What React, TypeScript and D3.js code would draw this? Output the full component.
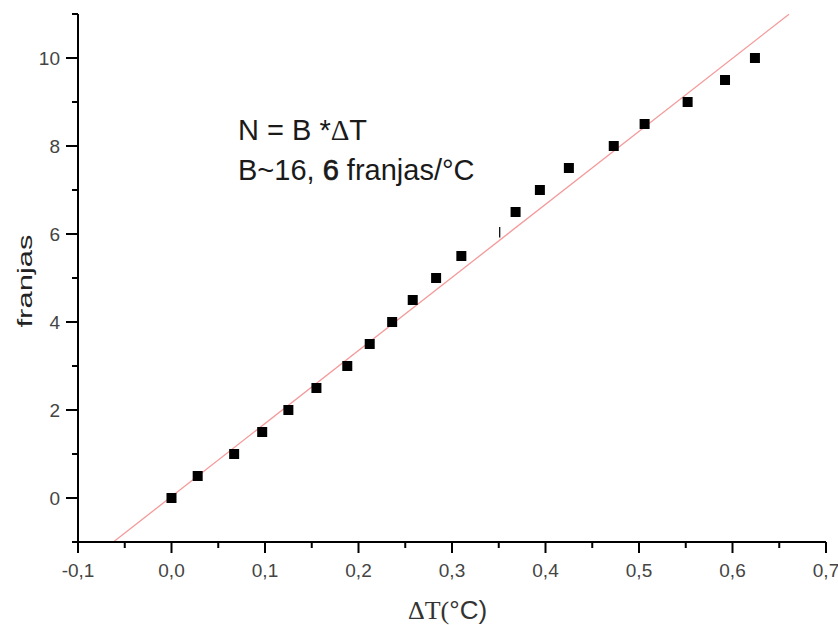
import React from "react";
import * as d3 from "d3";

const deltaT = [0.0, 0.028, 0.067, 0.097, 0.125, 0.155, 0.188, 0.212, 0.236, 0.258, 0.283, 0.310, 0.368, 0.394, 0.425, 0.473, 0.506, 0.552, 0.592, 0.624];
const franjas = [0, 0.5, 1, 1.5, 2, 2.5, 3, 3.5, 4, 4.5, 5, 5.5, 6.5, 7, 7.5, 8, 8.5, 9, 9.5, 10];
const fitSlope = 16.6;
const fitIntercept = 0.033;
const fitRange = [-0.0622, 0.6604];
const strayMark = [0.351, 5.92, 6.16];
const xTicksMajor = [-0.1, 0, 0.1, 0.2, 0.3, 0.4, 0.5, 0.6, 0.7];
const xTicksMinor = [-0.05, 0.05, 0.15, 0.25, 0.35, 0.45, 0.55, 0.65];
const yTicksMajor = [0, 2, 4, 6, 8, 10];
const yTicksMinor = [-1, 1, 3, 5, 7, 9, 11];

const W = 838;
const H = 625;
const left = 78;
const right = 826;
const top = 14;
const bottom = 542;

export default function App() {
  const x = d3.scaleLinear().domain([-0.1, 0.7]).range([left, right]);
  const y = d3.scaleLinear().domain([-1, 11]).range([bottom, top]);
  const fmt = (v: number) =>
    d3.format(".1f")(v).replace("\u2212", "-").replace(".", ",").replace("-0,0", "0,0");
  const line = d3
    .line<number>()
    .x((d) => x(d))
    .y((d) => y(fitSlope * d + fitIntercept));
  const sans = "'Liberation Sans', Arial, sans-serif";
  const serif = "'Liberation Serif', 'Times New Roman', serif";
  const ms = 10;
  return (
    <svg
      width={W}
      height={H}
      style={{ position: "absolute", left: 0, top: 0, background: "#fff" }}
    >
      <rect x={0} y={0} width={W} height={H} fill="#fff" />
      {/* fit line */}
      <path d={line(fitRange) || ""} fill="none" stroke="#f49a9a" strokeWidth={1.3} />
      {/* stray mark */}
      <line
        x1={x(strayMark[0])}
        x2={x(strayMark[0])}
        y1={y(strayMark[1])}
        y2={y(strayMark[2])}
        stroke="#111"
        strokeWidth={1.3}
      />
      {/* points */}
      {deltaT.map((d, i) => (
        <rect
          key={i}
          x={x(d) - ms / 2}
          y={y(franjas[i]) - ms / 2}
          width={ms}
          height={ms}
          fill="#000"
        />
      ))}
      {/* axes */}
      <line x1={left} x2={left} y1={top} y2={bottom + 1} stroke="#000" strokeWidth={2} />
      <line x1={left - 1} x2={right} y1={bottom} y2={bottom} stroke="#000" strokeWidth={2} />
      {yTicksMajor.map((t) => (
        <g key={"ym" + t}>
          <line x1={left - 12} x2={left} y1={y(t)} y2={y(t)} stroke="#000" strokeWidth={2} />
          <text
            x={left - 18}
            y={y(t)}
            dy="0.36em"
            textAnchor="end"
            fontFamily={sans}
            fontSize={19}
            fill="#444"
          >
            {t}
          </text>
        </g>
      ))}
      {yTicksMinor.map((t) => (
        <line key={"yn" + t} x1={left - 6} x2={left} y1={y(t)} y2={y(t)} stroke="#000" strokeWidth={2} />
      ))}
      {xTicksMajor.map((t) => (
        <g key={"xm" + t}>
          <line x1={x(t)} x2={x(t)} y1={bottom} y2={bottom + 11} stroke="#000" strokeWidth={2} />
          <text
            x={x(t)}
            y={577}
            textAnchor="middle"
            fontFamily={sans}
            fontSize={19}
            fill="#444"
          >
            {fmt(t)}
          </text>
        </g>
      ))}
      {xTicksMinor.map((t) => (
        <line key={"xn" + t} x1={x(t)} x2={x(t)} y1={bottom} y2={bottom + 6} stroke="#000" strokeWidth={2} />
      ))}
      {/* axis titles */}
      <text
        transform="translate(32,281) rotate(-90)"
        textAnchor="middle"
        fontFamily={sans}
        fontSize={21}
        fill="#222"
        textLength={93}
        lengthAdjust="spacingAndGlyphs"
      >
        franjas
      </text>
      <text x={408} y={619} fontSize={26} fill="#333">
        <tspan fontFamily={serif}>ΔT(</tspan>
        <tspan fontFamily={sans}>°C)</tspan>
      </text>
      {/* annotation */}
      <text x={238} y={140} fontFamily={sans} fontSize={29} fill="#1a1a1a">
        N = B *<tspan fontFamily={serif}>Δ</tspan>T
      </text>
      <text x={238} y={180} fontFamily={sans} fontSize={29} fill="#1a1a1a">
        B~16, <tspan stroke="#1a1a1a" strokeWidth={0.7}>6</tspan> franjas/°C
      </text>
    </svg>
  );
}
